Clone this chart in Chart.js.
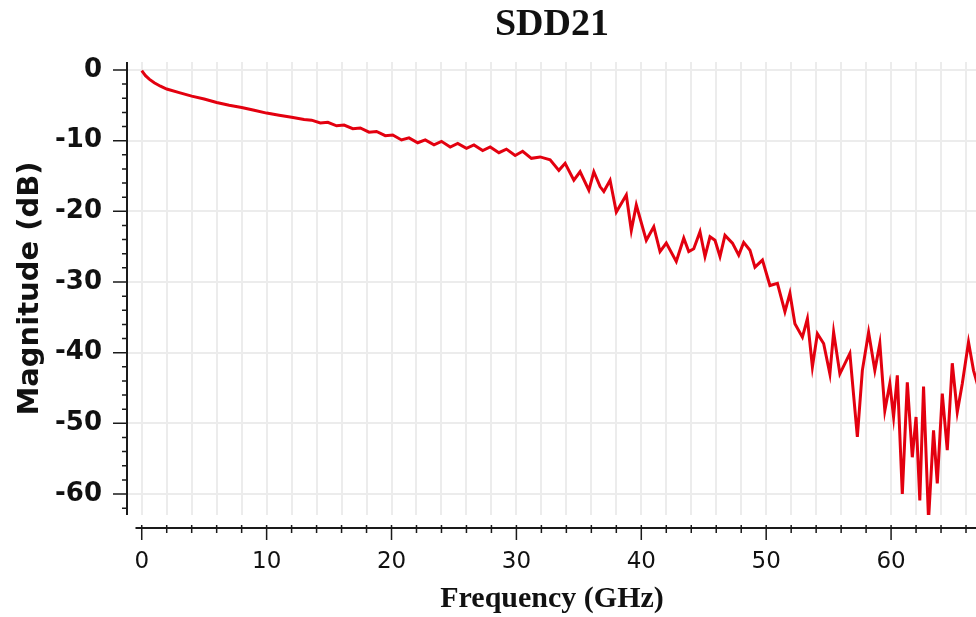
<!DOCTYPE html>
<html>
<head>
<meta charset="utf-8">
<script src="https://cdn.jsdelivr.net/npm/chart.js@4.4.1/dist/chart.umd.min.js"></script>
<style>
    html, body { margin: 0; padding: 0; background: #fff; }
    #wrap { width: 976px; height: 617px; position: relative; }
</style>
</head>
<body>
<div id="wrap"><canvas id="sdd21Chart"></canvas></div>
<script>
// Frequency points (GHz)
const freqGHz = [
    0, 0.3, 0.6, 1.0, 1.5, 2.0, 3.0, 4.0, 5.0, 6.0, 7.0, 8.0, 9.0, 10.0, 11.0, 12.0, 13.0,
    13.6, 14.3, 14.9, 15.6, 16.2, 16.9, 17.5, 18.2, 18.8, 19.5, 20.1, 20.8, 21.4, 22.1, 22.7,
    23.4, 24.0, 24.7, 25.3, 26.0, 26.6, 27.3, 27.9, 28.6, 29.2, 29.9, 30.5, 31.2, 31.9, 32.7,
    33.4, 33.9, 34.6, 35.1, 35.8, 36.2, 36.7, 37.0, 37.5, 38.0, 38.8, 39.2, 39.6, 40.4, 41.0,
    41.5, 42.0, 42.8, 43.4, 43.8, 44.2, 44.7, 45.1, 45.5, 45.9, 46.3, 46.7, 47.3, 47.8, 48.2,
    48.7, 49.1, 49.7, 50.3, 50.9, 51.5, 51.9, 52.3, 52.9, 53.3, 53.7, 54.1, 54.6, 55.1, 55.4,
    55.9, 56.7, 57.3, 57.7, 58.2, 58.7, 59.1, 59.5, 59.9, 60.2, 60.5, 60.9, 61.3, 61.7, 62.0,
    62.3, 62.6, 63.0, 63.4, 63.7, 64.1, 64.5, 64.9, 65.3, 65.7, 66.2, 66.6, 67.0
];
// SDD21 magnitude (dB)
const magDB = [
    -0.1, -0.8, -1.3, -1.8, -2.3, -2.7, -3.2, -3.7, -4.1, -4.6, -5.0, -5.3, -5.7, -6.1, -6.4, -6.7, -7.0,
    -7.1, -7.5, -7.4, -7.9, -7.8, -8.3, -8.2, -8.8, -8.7, -9.3, -9.2, -9.9, -9.6, -10.3, -9.9,
    -10.6, -10.1, -10.9, -10.4, -11.1, -10.6, -11.4, -10.9, -11.7, -11.2, -12.1, -11.5, -12.5, -12.3, -12.7,
    -14.2, -13.2, -15.6, -14.4, -17.0, -14.4, -16.5, -17.2, -15.6, -20.1, -17.7, -22.7, -19.1, -24.1, -22.2,
    -25.7, -24.5, -27.1, -23.8, -25.7, -25.3, -22.9, -26.4, -23.6, -24.1, -26.4, -23.4, -24.5, -26.2, -24.4,
    -25.5, -27.9, -26.9, -30.5, -30.2, -34.2, -31.6, -35.9, -37.8, -35.2, -42.0, -37.3, -38.7, -43.0, -37.1,
    -43.0, -40.1, -51.9, -42.5, -37.1, -42.5, -38.7, -48.2, -44.4, -49.1, -43.2, -60.0, -44.2, -54.8, -49.1,
    -60.9, -44.8, -63.7, -51.0, -58.5, -45.8, -53.8, -41.5, -48.4, -44.4, -38.5, -42.5, -45.0
];

const xTicks = [0, 2, 4, 6, 8, 10, 12, 14, 16, 18, 20, 22, 24, 26, 28, 30, 32, 34, 36, 38, 40,
    42, 44, 46, 48, 50, 52, 54, 56, 58, 60, 62, 64, 66];
const yTicks = [0, -10, -20, -30, -40, -50, -60];
const yMinorTicks = [0, -2, -4, -6, -8, -10, -12, -14, -16, -18, -20, -22, -24, -26, -28, -30, -32,
    -34, -36, -38, -40, -42, -44, -46, -48, -50, -52, -54, -56, -58, -60, -62];

const points = freqGHz.map((f, i) => ({ x: f, y: magDB[i] }));

// draws the two axis lines with their tick marks (x axis sits a bit below the plot)
const axisLines = {
    id: 'axisLines',
    afterDatasetsDraw(chart) {
        const ctx = chart.ctx;
        const area = chart.chartArea;
        const xs = chart.scales.x;
        const ys = chart.scales.y;
        const axisX = area.left - 1;
        const axisY = area.bottom + 13;
        ctx.save();
        ctx.strokeStyle = '#1a1a1a';
        ctx.lineWidth = 2;
        ctx.beginPath();
        ctx.moveTo(axisX, area.top);
        ctx.lineTo(axisX, area.bottom);
        ctx.moveTo(xs.getPixelForValue(-0.5), axisY);
        ctx.lineTo(area.right, axisY);
        ctx.stroke();
        ctx.lineWidth = 1.5;
        ctx.beginPath();
        yMinorTicks.forEach(v => {
            const py = ys.getPixelForValue(v);
            const len = v % 10 === 0 ? 14 : 5;
            ctx.moveTo(axisX - len, py);
            ctx.lineTo(axisX + 1, py);
        });
        xTicks.forEach(v => {
            const px = xs.getPixelForValue(v);
            const len = v % 10 === 0 ? 12 : 5;
            ctx.moveTo(px, axisY - 3);
            ctx.lineTo(px, axisY + len);
        });
        ctx.stroke();
        ctx.restore();
    }
};

const ctx = document.getElementById('sdd21Chart').getContext('2d');
new Chart(ctx, {
    type: 'line',
    data: {
        datasets: [{
            label: 'SDD21',
            data: points,
            borderColor: '#e3000f',
            borderWidth: 3,
            pointRadius: 0,
            tension: 0,
            fill: false
        }]
    },
    options: {
        responsive: true,
        maintainAspectRatio: false,
        animation: false,
        layout: { padding: 0 },
        scales: {
            x: {
                type: 'linear',
                min: -1.1,
                max: 66.8,
                afterBuildTicks: axis => { axis.ticks = xTicks.map(v => ({ value: v })); },
                afterFit: axis => { axis.height = 102; },
                grid: { color: '#ececec', lineWidth: 2, drawTicks: true, tickLength: 30, tickColor: 'rgba(0,0,0,0)' },
                border: { display: false },
                ticks: {
                    autoSkip: false,
                    maxRotation: 0,
                    padding: 3,
                    color: '#111',
                    font: { family: 'DejaVu Sans', size: 23 },
                    callback: v => (v % 10 === 0 ? String(v) : '')
                },
                title: {
                    display: true,
                    text: 'Frequency (GHz)',
                    color: '#111',
                    font: { family: 'Liberation Serif', size: 30, weight: 'bold' },
                    padding: { top: 0, bottom: 0 }
                }
            },
            y: {
                min: -62.97,
                max: 1.13,
                afterBuildTicks: axis => { axis.ticks = yTicks.map(v => ({ value: v })); },
                afterFit: axis => { axis.width = 128; },
                grid: { color: '#ececec', lineWidth: 2, drawTicks: false },
                border: { display: false },
                ticks: {
                    padding: 26,
                    color: '#111',
                    font: { family: 'DejaVu Sans', size: 26, weight: 'bold' }
                },
                title: {
                    display: true,
                    text: 'Magnitude (dB)',
                    color: '#111',
                    font: { family: 'DejaVu Sans', size: 29, weight: 'bold' },
                    padding: { top: 13, bottom: 0 }
                }
            }
        },
        plugins: {
            legend: { display: false },
            tooltip: { enabled: false },
            title: {
                display: true,
                fullSize: false,
                text: 'SDD21',
                color: '#111',
                font: { family: 'Liberation Serif', size: 38, weight: 'bold' },
                padding: { top: 2, bottom: 14.4 }
            }
        }
    },
    plugins: [axisLines]
});
</script>
</body>
</html>
